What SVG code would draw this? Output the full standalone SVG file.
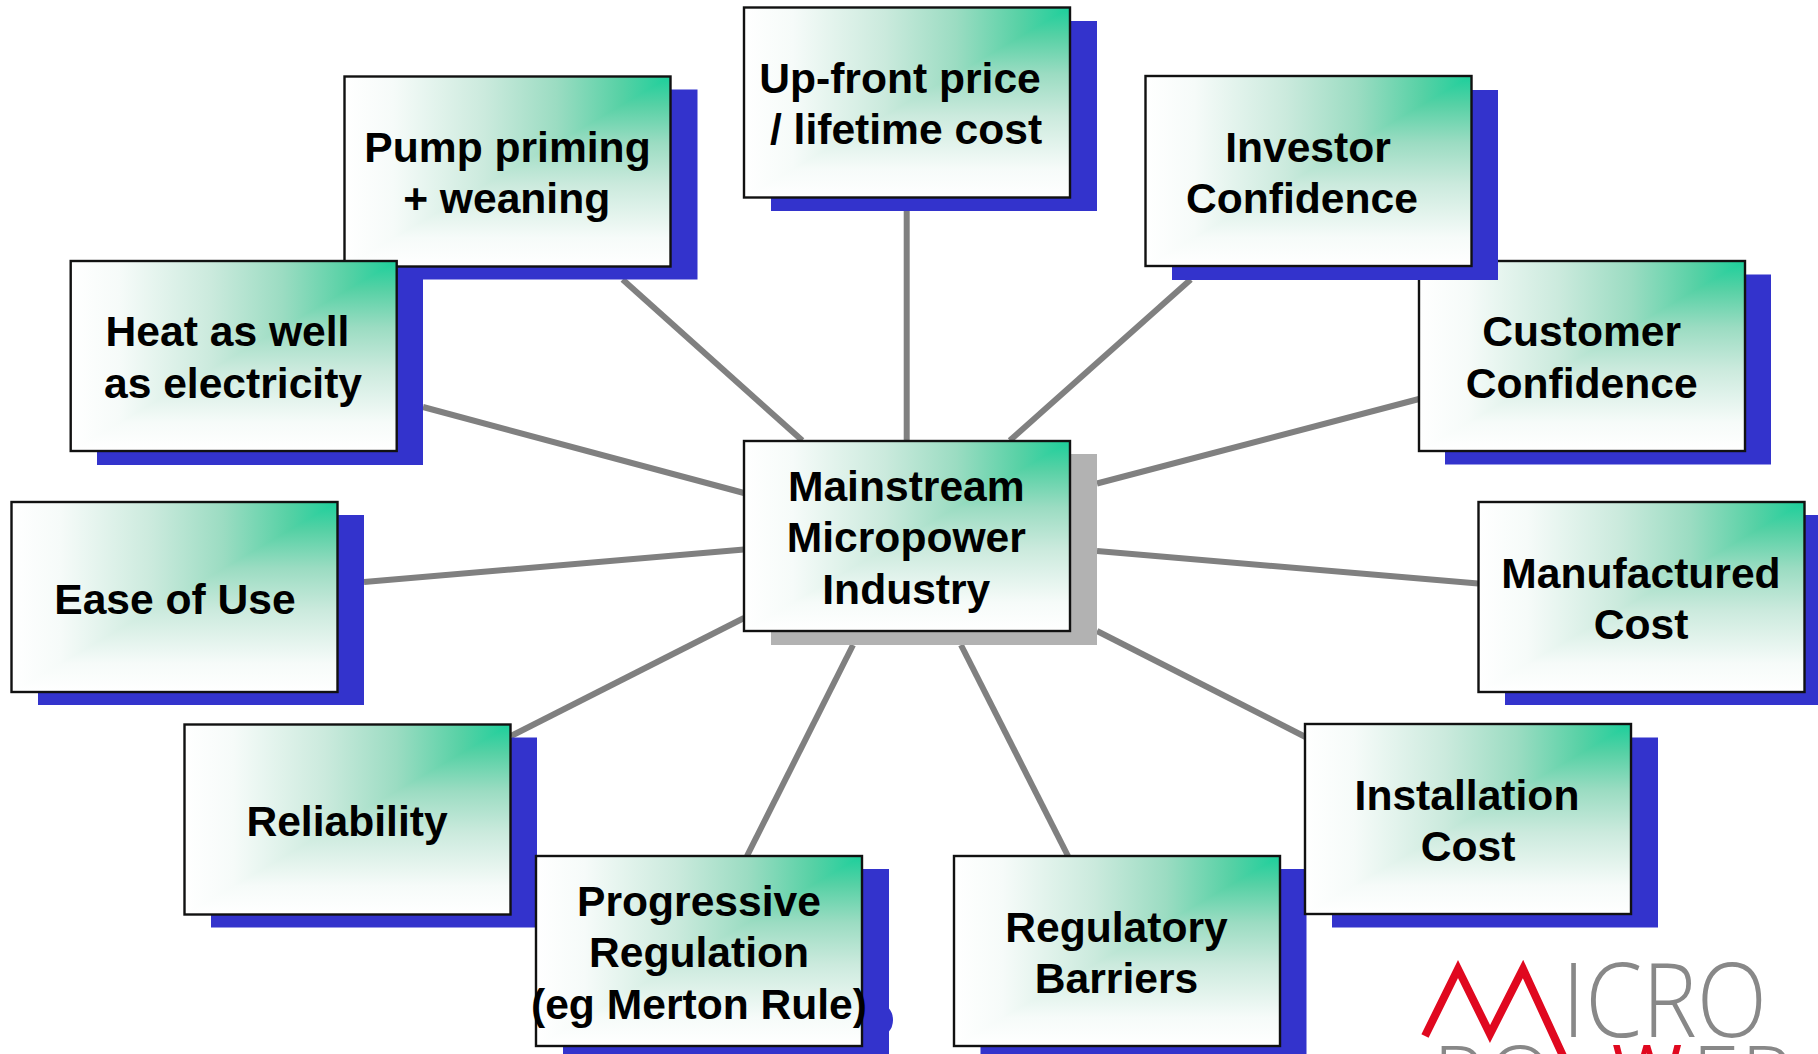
<svg xmlns="http://www.w3.org/2000/svg" width="1818" height="1054" viewBox="0 0 1818 1054">
<style>
text{font-family:"Liberation Sans",Arial,sans-serif;font-weight:700;font-size:42.6px;fill:#000;text-anchor:middle}
.sh{fill:#3333cc}
.f1{fill:url(#gh)}
.f2{fill:url(#gv)}
.bd{fill:none;stroke:#111;stroke-width:2.4}
#connectors line{stroke:#808080;stroke-width:6}
#logo text{font-family:"Open Sans","Liberation Sans",sans-serif;font-weight:300;fill:#888;text-anchor:start}
</style>
<defs>
<linearGradient id="gh" x1="0" y1="0" x2="1" y2="0"><stop offset="0" stop-color="#fff"/><stop offset=".15" stop-color="#f6fbf9"/><stop offset=".43" stop-color="#cbeadd"/><stop offset=".65" stop-color="#9bdcc2"/><stop offset=".85" stop-color="#56d1a5"/><stop offset="1" stop-color="#1ccf9b"/></linearGradient>
<linearGradient id="gv" x1="0" y1="1" x2="0" y2="0"><stop offset="0" stop-color="#fff"/><stop offset=".15" stop-color="#f6fbf9"/><stop offset=".43" stop-color="#cbeadd"/><stop offset=".65" stop-color="#9bdcc2"/><stop offset=".85" stop-color="#56d1a5"/><stop offset="1" stop-color="#1ccf9b"/></linearGradient>
<g id="card"><rect class="f1" width="326" height="190"/><polygon class="f2" points="326,0 326,190 0,190"/><rect class="bd" width="326" height="190"/></g>
</defs>
<rect width="1818" height="1054" fill="#fff"/>
<g id="connectors">
<line x1="622.6" y1="279.4" x2="802.3" y2="440.6"/>
<line x1="906.7" y1="211" x2="906.7" y2="441"/>
<line x1="1190.7" y1="279.4" x2="1009.8" y2="440.6"/>
<line x1="1419" y1="399" x2="1097" y2="483.5"/>
<line x1="423" y1="407" x2="744" y2="493"/>
<line x1="364" y1="582" x2="744" y2="549.5"/>
<line x1="1097" y1="551" x2="1478" y2="583.5"/>
<line x1="511" y1="736" x2="744" y2="618"/>
<line x1="1097" y1="631" x2="1305.5" y2="737"/>
<line x1="747" y1="856" x2="853" y2="645"/>
<line x1="1068" y1="856" x2="961" y2="645"/>
</g>
<g id="pump"><rect class="sh" x="371.5" y="89.5" width="326" height="190"/><use href="#card" x="344.5" y="76.5"/><text x="507.5" y="161.5">Pump priming</text><text x="506.7" y="212.5">+ weaning</text></g>
<g id="upfront"><rect class="sh" x="771" y="21" width="326" height="190"/><use href="#card" x="744" y="7.5"/><text x="900" y="93">Up-front price</text><text x="906" y="144">/ lifetime cost</text></g>
<g id="customer"><rect class="sh" x="1445" y="274.5" width="326" height="190"/><use href="#card" x="1419" y="261"/><text x="1581.7" y="346">Customer</text><text x="1581.7" y="397.7">Confidence</text></g>
<g id="investor"><rect class="sh" x="1172" y="90" width="326" height="190"/><use href="#card" x="1145.5" y="76"/><text x="1308" y="161.5">Investor</text><text x="1302" y="212.5">Confidence</text></g>
<g id="heat"><rect class="sh" x="97" y="275" width="326" height="190"/><use href="#card" x="70.7" y="261"/><text x="227.5" y="346">Heat as well</text><text x="233" y="397.5">as electricity</text></g>
<g id="ease"><rect class="sh" x="38" y="515" width="326" height="190"/><use href="#card" x="11.5" y="502"/><text x="175" y="613.5">Ease of Use</text></g>
<g id="manufactured"><rect class="sh" x="1505" y="515" width="326" height="190"/><use href="#card" x="1478.5" y="502"/><text x="1641" y="588">Manufactured</text><text x="1641" y="638.5">Cost</text></g>
<g id="reliability"><rect class="sh" x="211" y="737.5" width="326" height="190"/><use href="#card" x="184.5" y="724.5"/><text x="347" y="835.5">Reliability</text></g>
<g id="regulatory"><rect class="sh" x="980.5" y="869" width="326" height="190"/><use href="#card" x="954" y="856"/><text x="1116.5" y="942">Regulatory</text><text x="1116.5" y="992.5">Barriers</text></g>
<g id="installation"><rect class="sh" x="1332" y="737.5" width="326" height="190"/><use href="#card" x="1305" y="724"/><text x="1467" y="810">Installation</text><text x="1468" y="861">Cost</text></g>
<g id="progressive"><ellipse class="sh" cx="878" cy="1020" rx="15" ry="17"/><rect class="sh" x="563" y="869" width="326" height="190"/><use href="#card" x="536" y="856"/><text x="699" y="916">Progressive</text><text x="699" y="967">Regulation</text><text x="699" y="1019">(eg Merton Rule)</text></g>
<g id="central"><rect x="771" y="454" width="326" height="191" fill="#b2b2b2"/><use href="#card" x="744" y="441"/><text x="906.3" y="501">Mainstream</text><text x="906.3" y="552">Micropower</text><text x="906.3" y="603.5">Industry</text></g>
<g id="logo">
<polyline points="1425,1036 1458,969 1490,1034 1523,969 1563,1056" fill="none" stroke="#e0081f" stroke-width="8"/>
<text x="1562" y="1037" textLength="205" lengthAdjust="spacingAndGlyphs" style="font-size:104px">ICRO</text>
<text y="1108" style="font-size:86px"><tspan x="1433">P</tspan><tspan x="1487">O</tspan><tspan x="1692">E</tspan><tspan x="1741">R</tspan></text>
<text x="1612" y="1100" style="font-size:76px;fill:#e0081f;font-weight:400">W</text>
</g>
</svg>
